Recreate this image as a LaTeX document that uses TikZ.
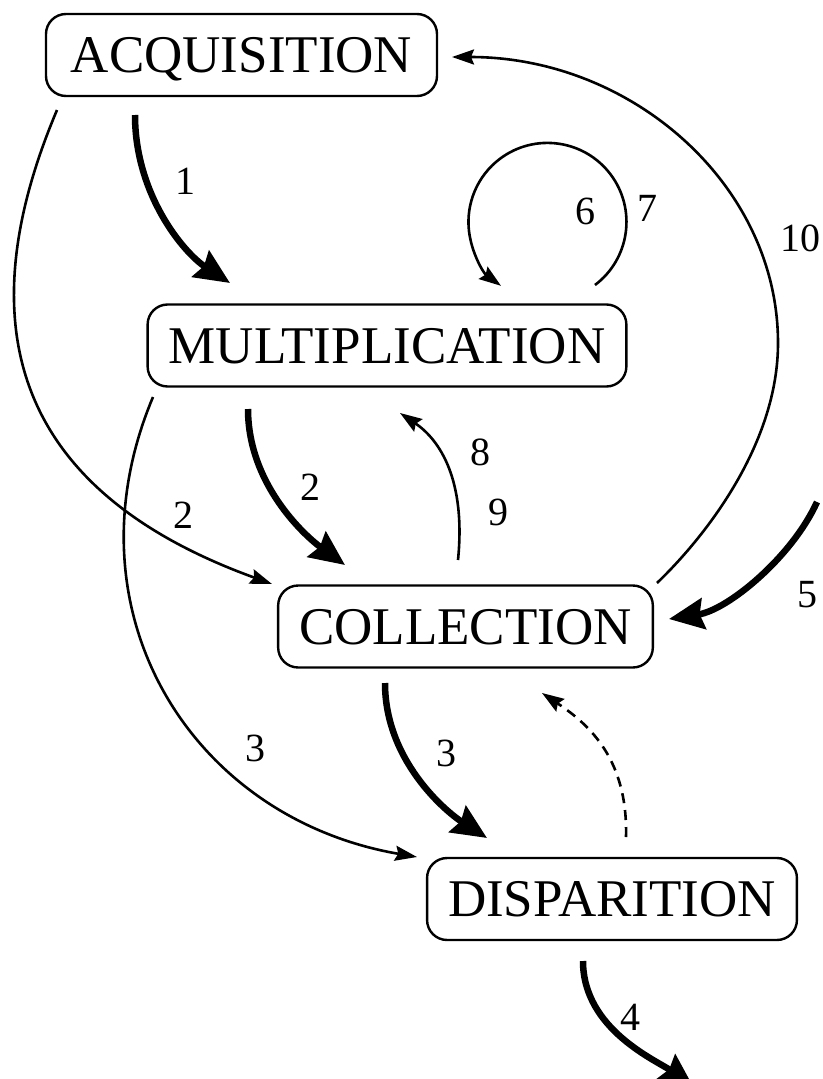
\documentclass[tikz,border=0pt]{standalone}
\usepackage{fontspec}
\setmainfont{Liberation Serif}
\usetikzlibrary{arrows.meta,calc}
\tikzset{
  box/.style={draw, line width=2.4pt, rounded corners=20pt, inner xsep=21pt, inner ysep=0pt,
    minimum height=82pt, text height=35pt, text depth=0pt, font=\fontsize{53}{60}\selectfont},
  lbl/.style={font=\fontsize{40}{44}\selectfont, inner sep=0pt},
  thinarrow/.style={line width=2.6pt, -{Stealth[length=22pt,width=15pt,inset=3pt]}},
  thickarrow/.style={line width=6.5pt, -{Stealth[length=35pt,width=31pt,inset=4pt]}},
  dasharrow/.style={thinarrow, dash pattern=on 10pt off 7pt}
}
\begin{document}
\begin{tikzpicture}[x=1pt,y=-1pt]
\useasboundingbox (0,0) rectangle (822,1079);
% nodes
\node[box, minimum width=391pt] (acq) at (241.5,55) {ACQUISITION};
\node[box] (mul) at (387,345.5) {MULTIPLICATION};
\node[box] (col) at (465.5,626.5) {COLLECTION};
\node[box] (dis) at (612,899) {DISPARITION};
\coordinate (s5) at (817,502);
\coordinate (e4) at (694,1088);
% 1
\draw[thickarrow] ($(acq)+(-106.5,60)$) .. controls +(0,80) and +(-46,-30) .. ($(mul)+(-157,-62.5)$);
% 2 (acq -> col)
\draw[thinarrow] ($(acq)+(-184.5,55)$) .. controls +(-101,239) and +(-235,-85) .. ($(col)+(-193.5,-42.5)$);
% 2 (mul -> col)
\draw[thickarrow] ($(mul)+(-139,63.5)$) .. controls +(0,75) and +(-40.5,-29.5) .. ($(col)+(-120.5,-61.5)$);
% 3 (mul -> dis)
\draw[thinarrow] ($(mul)+(-234,51.5)$) .. controls +(-90,214) and +(-226.5,-39) .. ($(dis)+(-195,-42)$);
% 3 (col -> dis)
\draw[thickarrow] ($(col)+(-80.5,56.5)$) .. controls +(0,77) and +(-42,-27) .. ($(dis)+(-125,-61)$);
% 4
\draw[thickarrow] ($(dis)+(-29,62)$) .. controls +(0,69) and +(-36,-27) .. (e4);
% 5
\draw[thickarrow] (s5) .. controls +(-25,55) and +(59,-9) .. ($(col)+(203.5,-7.5)$);
% 6/7 loop
\draw[thinarrow] ($(mul)+(208,-60.5)$) arc[start angle=53, end angle=-234, radius=79];
% 8/9
\draw[thinarrow] ($(col)+(-7.5,-66.5)$) .. controls +(8,-80) and +(40,27) .. ($(mul)+(13,67.5)$);
% 10
\draw[thinarrow] ($(col)+(191.5,-43.5)$) .. controls +(50,-48) and +(0,100) .. ($(col)+(312.5,-283.5)$)
  .. controls +(0,-158) and +(180,0) .. ($(acq)+(210.5,2)$);
% dashed
\draw[dasharrow] ($(dis)+(14,-62)$) .. controls +(2,-77) and +(48,32) .. ($(col)+(76.5,66.5)$);
% labels
\node[lbl] (l1) at (185,181) {1};
\node[lbl] (l6) at (585,211) {6};
\node[lbl] (l7) at (647,208) {7};
\node[lbl] (l10) at (800,238) {10};
\node[lbl] (l2a) at (183,515) {2};
\node[lbl] (l2b) at (310,487) {2};
\node[lbl] (l8) at (480,452) {8};
\node[lbl] (l9) at (498,512) {9};
\node[lbl] (l5) at (807,595) {5};
\node[lbl] (l3a) at (255,748) {3};
\node[lbl] (l3b) at (446,753) {3};
\node[lbl] (l4) at (630,1017) {4};
\end{tikzpicture}
\end{document}
